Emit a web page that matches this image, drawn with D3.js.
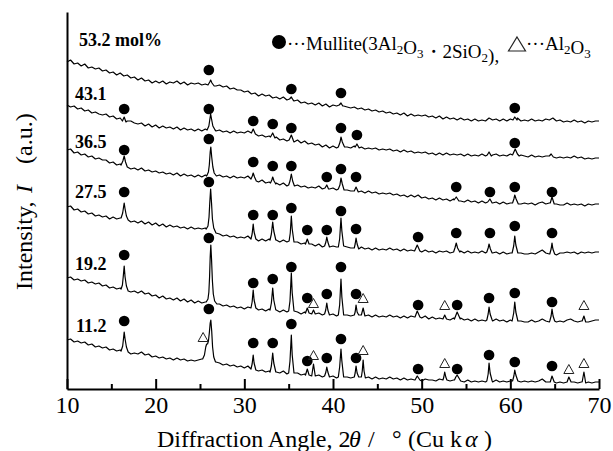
<!DOCTYPE html>
<html>
<head>
<meta charset="utf-8">
<script src="https://cdn.jsdelivr.net/npm/d3@7"></script>
<style>
  body { margin: 0; background: #fff; }
  svg { display: block; }
  text { font-family: "Liberation Serif", "Times New Roman", serif; fill: #000; white-space: pre; }
</style>
</head>
<body>
<svg id="chart" width="613" height="451"></svg>
<script>
// ---- axis definitions ----
const angleDomain = [10, 70];
const majorTicks = [10, 20, 30, 40, 50, 60, 70];
const minorTicks = [15, 25, 35, 45, 55, 65];
const intensityDomain = [0, 377];

// Baseline samples every 0.4 deg from 10 to 70 deg (151 values per pattern)
const gridAngles = d3.range(151).map(i => Math.round((10 + 0.4 * i) * 10) / 10);

const sampleLabels = ["53.2 mol%", "43.1", "36.5", "27.5", "19.2", "11.2"];

// ---- 53.2 mol% ----
const base532 = [
  327,329,325,326,323,325,321,322,320,321, 318,319,316,317,314,316,313,314,311,312,
  309,311,308,309,306,308,306,308,305,307, 306,308,305,307,304,306,305,306,304,305,
  304,305,303,304,302,303,300,301,299,299, 297,298,295,296,293,295,293,294,291,292,
  290,292,289,290,288,289,286,287,285,286, 284,286,283,285,282,284,283,285,283,282,
  281,282,280,281,279,280,278,279,277,278, 276,277,275,276,274,276,273,275,273,274,
  273,274,272,273,271,273,270,272,270,271, 269,271,269,270,268,270,268,269,268,271,
  269,270,268,270,268,270,270,271,268,269, 268,270,268,269,268,270,269,271,268,269,
  267,268,267,269,267,268,266,268,267,268, 268];
const peaks532 = [
  [[25.9,304],[26.1,307],[26.2,309],[26.35,306],[26.6,303]],
  [[35.1,290],[35.3,292],[35.5,289]],
  [[40.7,284],[40.9,286],[41.1,283]],
  [[60.3,269],[60.5,272],[60.75,269]]];
const mullite532 = [[26.0,319],[35.3,300],[40.9,296],[60.5,281]];
const alumina532 = [];

// ---- 43.1 mol% ----
const base431 = [
  284,282,283,280,281,278,279,276,277,275, 274,275,272,273,270,271,269,268,268,266,
  265,266,263,265,262,264,261,263,261,262, 260,262,259,261,259,260,258,260,258,260,
  259,260,258,259,257,258,256,258,256,257, 256,258,255,256,253,254,252,253,251,252,
  249,250,248,249,247,249,246,248,245,246, 244,245,242,244,241,243,241,243,241,242,
  241,243,241,242,240,241,240,241,239,240, 239,240,238,239,237,239,237,238,236,237,
  236,237,235,236,234,236,234,236,234,235, 234,235,233,235,233,234,233,235,233,236,
  234,235,233,234,233,235,234,236,234,233, 232,234,232,233,232,233,235,233,231,232,
  231,232,231,233,231,232,230,231,230,231, 231];
const peaks431 = [
  [[16.25,268],[16.45,272],[16.65,267]],
  [[25.8,259],[26.0,263],[26.1,269],[26.2,275],[26.3,270],[26.45,263],[26.7,259]],
  [[30.8,256],[31.0,260],[31.25,255]],
  [[32.95,252],[33.2,256],[33.45,251]],
  [[35.05,249],[35.3,254],[35.55,248]],
  [[40.6,242],[40.8,247],[40.9,252],[41.05,247],[41.3,242]],
  [[42.5,242],[42.7,245],[42.95,241]],
  [[57.4,234],[57.6,237],[57.85,233]],
  [[60.25,234],[60.45,238],[60.55,240],[60.8,235],[61.0,233]],
  [[64.4,233],[64.6,235],[64.85,232]]];
const mullite431 = [[16.45,280],[26.0,280],[31.0,268],[33.2,265],[35.3,261],[40.9,261],[42.7,254],[60.5,246]];
const alumina431 = [];

// ---- 36.5 mol% ----
const base365 = [
  239,240,236,237,234,235,232,233,230,231, 229,229,226,227,224,225,223,222,220,221,
  219,221,218,219,217,218,216,217,215,216, 214,216,213,215,213,214,212,214,212,214,
  213,214,212,214,212,213,211,213,211,212, 211,213,210,209,207,209,206,207,205,206,
  204,206,203,205,203,204,202,203,201,202, 201,203,200,202,200,201,199,200,199,199,
  198,199,197,198,196,198,196,197,195,196, 195,196,194,195,193,194,192,194,192,194,
  191,192,190,191,189,191,189,190,188,190, 189,188,187,189,187,188,186,188,186,187,
  186,187,185,187,185,186,185,187,185,186, 185,186,184,186,187,185,186,184,185,184,
  184,186,184,185,184,185,183,185,184,185, 185];
const peaks365 = [
  [[16.1,224],[16.3,228],[16.45,233],[16.6,227],[16.8,222]],
  [[25.75,213],[25.95,217],[26.05,224],[26.15,237],[26.22,242],[26.32,232],[26.45,222],[26.6,216],[26.85,213]],
  [[30.75,210],[30.9,213],[31.0,216],[31.15,212],[31.35,208]],
  [[32.95,206],[33.1,209],[33.2,212],[33.35,208],[33.55,205]],
  [[35.0,204],[35.15,208],[35.3,215],[35.45,208],[35.65,203]],
  [[39.1,201],[39.3,204],[39.5,200]],
  [[40.6,200],[40.78,204],[40.9,211],[41.05,205],[41.25,199]],
  [[42.4,198],[42.6,202],[42.85,197]],
  [[53.65,189],[53.9,192],[54.2,188]],
  [[57.45,187],[57.7,190],[57.95,186]],
  [[60.25,186],[60.4,190],[60.5,194],[60.65,190],[60.9,185]],
  [[64.5,186],[64.7,192],[64.95,185]]];
const mullite365 = [[16.45,239],[26.0,250],[31.0,227],[33.2,223],[35.3,223],[39.3,212],[40.9,220],[42.6,212],[53.9,202],[57.7,197],[60.5,202],[64.7,197]];
const alumina365 = [];

// ---- 27.5 mol% ----
const base275 = [
  182,183,179,180,177,178,175,176,173,174, 172,173,170,172,170,171,171,169,167,168,
  166,168,165,167,164,166,163,165,162,164, 162,163,161,162,160,162,160,161,160,161,
  160,158,157,155,153,154,152,153,151,152, 151,153,150,150,148,150,148,150,148,149,
  147,149,147,148,146,147,145,146,144,145, 143,145,142,144,142,143,142,143,141,142,
  141,142,140,142,140,141,139,141,139,140, 139,141,139,140,138,140,138,139,138,139,
  137,139,137,138,136,138,137,138,136,138, 137,138,136,138,136,137,136,138,136,137,
  136,137,135,137,135,136,136,137,136,135, 135,136,135,137,139,136,135,135,134,136,
  136,137,136,137,135,137,136,137,136,137, 137];
const peaks275 = [
  [[16.1,171],[16.28,176],[16.38,182],[16.45,186],[16.55,180],[16.7,173],[16.9,169]],
  [[25.7,160],[25.9,163],[26.02,172],[26.1,186],[26.2,200],[26.3,186],[26.4,170],[26.55,161],[26.8,156]],
  [[30.75,150],[30.88,155],[31.0,165],[31.1,157],[31.3,150]],
  [[32.9,149],[33.05,155],[33.2,167],[33.32,158],[33.55,149]],
  [[35.05,148],[35.18,156],[35.3,173],[35.4,160],[35.6,147]],
  [[36.9,145],[37.1,150],[37.3,145]],
  [[39.05,143],[39.2,147],[39.3,152],[39.42,147],[39.6,142]],
  [[40.6,142],[40.75,150],[40.9,171],[41.0,158],[41.2,143]],
  [[42.4,141],[42.5,145],[42.6,151],[42.72,145],[42.9,140]],
  [[49.25,139],[49.5,144],[49.8,138]],
  [[53.6,137],[53.75,141],[53.9,146],[54.05,141],[54.3,137]],
  [[57.35,137],[57.5,141],[57.6,145],[57.75,140],[57.95,136]],
  [[60.2,136],[60.38,143],[60.5,153],[60.62,144],[60.85,136]],
  [[64.45,135],[64.6,140],[64.7,146],[64.8,140],[65.0,135]]];
const mullite275 = [[16.45,197],[26.0,207],[31.0,174],[33.2,174],[35.3,181],[37.1,159],[39.3,159],[40.9,178],[42.6,160],[49.6,152],[53.9,156],[57.7,156],[60.5,163],[64.7,156]];
const alumina275 = [];

// ---- 19.2 mol% ----
const base192 = [
  111,112,109,110,108,109,106,107,105,106, 103,104,101,102,100,101,100,99,97,98,
  96,98,95,96,93,94,91,93,90,91, 89,91,88,90,87,89,86,88,86,87,
  87,86,85,85,83,84,82,83,81,82, 80,82,81,81,79,80,78,80,78,79,
  77,79,77,78,76,77,75,77,75,76, 75,76,74,75,73,75,73,74,73,74,
  73,75,74,74,73,74,72,74,72,73, 72,74,72,73,71,73,71,73,72,73,
  71,73,70,72,70,71,70,71,69,71, 70,71,69,70,68,70,68,69,68,70,
  68,70,68,69,67,69,68,69,68,67, 67,69,67,68,70,68,67,68,67,68,
  67,69,70,68,67,68,68,67,68,69, 69];
const peaks192 = [
  [[16.1,100],[16.25,104],[16.35,113],[16.45,123],[16.55,112],[16.7,103],[16.9,98]],
  [[25.7,87],[25.9,90],[26.0,97],[26.08,112],[26.15,132],[26.22,144],[26.3,130],[26.4,108],[26.5,95],[26.65,88],[26.9,85]],
  [[30.75,81],[30.88,87],[31.0,99],[31.1,89],[31.3,81]],
  [[32.9,79],[33.05,86],[33.2,101],[33.32,89],[33.55,79]],
  [[35.0,78],[35.15,88],[35.3,116],[35.4,96],[35.6,78]],
  [[36.9,76],[37.1,81],[37.3,76]],
  [[37.6,75],[37.8,79],[38.0,75]],
  [[39.05,75],[39.18,79],[39.3,86],[39.42,79],[39.6,74]],
  [[40.6,74],[40.75,84],[40.9,110],[41.0,92],[41.2,74]],
  [[42.4,74],[42.5,77],[42.6,84],[42.72,77],[42.9,74]],
  [[43.2,74],[43.4,81],[43.6,73]],
  [[49.25,72],[49.5,78],[49.8,72]],
  [[52.4,70],[52.6,74],[52.8,70]],
  [[53.7,70],[54.0,77],[54.35,70]],
  [[57.35,69],[57.5,75],[57.6,82],[57.72,75],[57.95,69]],
  [[60.2,68],[60.38,76],[60.5,87],[60.62,77],[60.85,68]],
  [[64.45,68],[64.6,73],[64.7,80],[64.82,73],[65.0,68]],
  [[68.1,68],[68.3,73],[68.5,67]]];
const mullite192 = [[16.45,134],[26.0,151],[31.0,106],[33.2,110],[35.3,122],[37.1,91],[39.3,95],[40.9,122],[42.6,95],[49.6,84],[54.0,84],[57.6,91],[60.5,96],[64.7,87]];
const alumina192 = [[37.8,86],[43.4,91],[52.6,84],[68.3,84]];

// ---- 11.2 mol% ----
const base112 = [
  49,50,47,48,46,47,44,45,42,43, 41,42,39,40,38,39,38,37,35,36,
  35,37,34,35,32,33,31,32,30,31, 29,31,29,30,28,29,28,29,30,31,
  28,27,27,26,24,25,23,24,22,23, 21,23,20,19,18,19,17,18,16,17,
  16,18,15,17,15,16,14,15,13,14, 13,14,12,13,12,13,11,12,11,12,
  11,13,12,12,11,12,10,12,10,11, 10,12,10,11,9,11,9,10,9,10,
  8,10,9,9,8,10,8,9,8,9, 8,9,7,9,7,8,7,8,7,8,
  7,9,7,8,7,8,8,8,7,8, 7,8,7,8,10,7,7,8,6,7,
  6,7,7,7,6,7,7,7,6,7, 7];
const peaks112 = [
  [[16.1,38],[16.28,43],[16.38,51],[16.45,57],[16.55,50],[16.7,42],[16.9,37]],
  [[25.3,30],[25.5,34],[25.65,42],[25.75,45],[25.85,45],[25.95,48],[26.05,56],[26.15,66],[26.22,69],[26.32,58],[26.42,42],[26.55,32],[26.75,27]],
  [[30.75,20],[30.88,25],[31.0,34],[31.1,26],[31.3,19]],
  [[32.9,17],[33.05,23],[33.2,36],[33.32,26],[33.55,17]],
  [[35.0,16],[35.15,28],[35.3,54],[35.4,34],[35.6,16]],
  [[36.9,14],[37.1,20],[37.3,14]],
  [[37.6,13],[37.8,25],[38.0,13]],
  [[39.05,13],[39.2,17],[39.3,22],[39.42,17],[39.6,12]],
  [[40.6,12],[40.75,22],[40.9,40],[41.0,28],[41.2,12]],
  [[42.4,12],[42.5,16],[42.6,23],[42.72,16],[42.9,12]],
  [[43.2,12],[43.3,18],[43.4,29],[43.5,18],[43.65,11]],
  [[49.25,9],[49.5,13],[49.8,9]],
  [[52.4,9],[52.5,12],[52.6,17],[52.72,12],[52.85,9]],
  [[53.7,9],[53.85,12],[54.0,14],[54.2,11],[54.4,8]],
  [[57.35,8],[57.5,15],[57.6,26],[57.72,16],[57.95,8]],
  [[60.25,8],[60.4,13],[60.5,19],[60.62,14],[60.85,8]],
  [[64.5,7],[64.7,13],[64.95,7]],
  [[66.4,7],[66.6,12],[66.85,7]],
  [[68.1,7],[68.3,17],[68.5,6]]];
const mullite112 = [[16.45,68],[26.0,80],[31.0,46],[33.2,46],[35.3,65],[37.1,28],[39.3,31],[40.9,50],[42.6,31],[49.6,20],[54.0,20],[57.6,34],[60.5,27],[64.7,23]];
const alumina112 = [[25.35,52],[37.8,34],[43.4,39],[52.6,26],[66.6,20],[68.3,26]];

// ---- assemble patterns ----
const patterns = [
  { label: sampleLabels[0], base: base532, peaks: peaks532, mullite: mullite532, alumina: alumina532, lx: 79, ly: 46 },
  { label: sampleLabels[1], base: base431, peaks: peaks431, mullite: mullite431, alumina: alumina431, lx: 75, ly: 100 },
  { label: sampleLabels[2], base: base365, peaks: peaks365, mullite: mullite365, alumina: alumina365, lx: 75, ly: 148 },
  { label: sampleLabels[3], base: base275, peaks: peaks275, mullite: mullite275, alumina: alumina275, lx: 75, ly: 198 },
  { label: sampleLabels[4], base: base192, peaks: peaks192, mullite: mullite192, alumina: alumina192, lx: 75, ly: 270 },
  { label: sampleLabels[5], base: base112, peaks: peaks112, mullite: mullite112, alumina: alumina112, lx: 76, ly: 332 }
];

// Replace baseline samples inside each peak's angular span with the peak's own points
function buildSeries(base, peaks) {
  const spans = peaks.map(p => [p[0][0], p[p.length - 1][0]]);
  const pts = gridAngles
    .map((a, i) => [a, base[i]])
    .filter(([a]) => !spans.some(([lo, hi]) => a >= lo && a <= hi));
  peaks.forEach(p => pts.push(...p));
  return pts.sort((a, b) => a[0] - b[0]);
}

const svg = d3.select("#chart");
const x = d3.scaleLinear().domain(angleDomain).range([67, 599]);
const y = d3.scaleLinear().domain(intensityDomain).range([389, 12]);
const FONT = '"Liberation Serif", "Times New Roman", serif';

// ---- axes ----
const gx = svg.append("g")
  .attr("transform", "translate(0,389)")
  .call(d3.axisBottom(x).tickValues(majorTicks).tickSize(-10).tickSizeOuter(0)
    .tickPadding(7).tickFormat(d3.format("d")));
gx.attr("font-family", FONT).attr("font-size", 24);
gx.select(".domain").attr("stroke", "#000").attr("stroke-width", 2);
gx.selectAll(".tick line").attr("stroke", "#000").attr("stroke-width", 2);
gx.selectAll(".tick text").attr("fill", "#000");

const gxm = svg.append("g")
  .attr("transform", "translate(0,389)")
  .call(d3.axisBottom(x).tickValues(minorTicks).tickSize(-5).tickSizeOuter(0).tickFormat(""));
gxm.select(".domain").remove();
gxm.selectAll(".tick line").attr("stroke", "#000").attr("stroke-width", 2);

const gy = svg.append("g")
  .attr("transform", "translate(67,0)")
  .call(d3.axisLeft(y).tickValues([]).tickSizeOuter(0));
gy.select(".domain").attr("stroke", "#000").attr("stroke-width", 2);

// ---- patterns ----
const line = d3.line().x(d => x(d[0])).y(d => y(d[1]));
const circleSym = d3.symbol().type(d3.symbolCircle).size(90);
const triPath = (w, h) => `M0,${-h / 2}L${w / 2},${h / 2}L${-w / 2},${h / 2}Z`;

const gp = svg.append("g");
patterns.forEach(p => {
  gp.append("path")
    .datum(buildSeries(p.base, p.peaks))
    .attr("d", line)
    .attr("fill", "none")
    .attr("stroke", "#000")
    .attr("stroke-width", 1.2)
    .attr("stroke-linejoin", "round");

  gp.selectAll(null).data(p.mullite).enter().append("path")
    .attr("d", circleSym)
    .attr("transform", d => `translate(${x(d[0])},${y(d[1])})`)
    .attr("fill", "#000");

  gp.selectAll(null).data(p.alumina).enter().append("path")
    .attr("d", triPath(10, 9))
    .attr("transform", d => `translate(${x(d[0])},${y(d[1])})`)
    .attr("fill", "none")
    .attr("stroke", "#222")
    .attr("stroke-width", 1);

  svg.append("text")
    .attr("x", p.lx).attr("y", p.ly)
    .attr("font-size", 18).attr("font-weight", "bold")
    .text(p.label);
});

// ---- legend ----
function richText(sel, parts) {
  parts.forEach(([t, kind]) => {
    if (kind === "sub") {
      sel.append("tspan").attr("font-size", 13).attr("dy", 4).text(t);
      sel.append("tspan").attr("dy", -4).text("");
    } else {
      sel.append("tspan").text(t);
    }
  });
}
svg.append("path").attr("d", d3.symbol().type(d3.symbolCircle).size(154))
  .attr("transform", "translate(279,42)").attr("fill", "#000");
const lg1 = svg.append("text").attr("x", 287).attr("y", 50).attr("font-size", 19);
richText(lg1, [["···Mullite(3Al"], ["2", "sub"], ["O"], ["3", "sub"], ["・2SiO"], ["2", "sub"], ["),"]]);
svg.append("path").attr("d", triPath(17, 14))
  .attr("transform", "translate(517,44)")
  .attr("fill", "none").attr("stroke", "#222").attr("stroke-width", 1.2);
const lg2 = svg.append("text").attr("x", 526).attr("y", 50).attr("font-size", 19);
richText(lg2, [["···Al"], ["2", "sub"], ["O"], ["3", "sub"]]);

// ---- axis titles ----
const xt = svg.append("text").attr("y", 447).attr("font-size", 24);
xt.append("tspan").attr("x", 157).text("Diffraction Angle, 2");
xt.append("tspan").attr("x", 349).attr("font-style", "italic").text("θ");
xt.append("tspan").attr("x", 368).text("/");
xt.append("tspan").attr("x", 392).text("°");
xt.append("tspan").attr("x", 408).text("(Cu k");
xt.append("tspan").attr("x", 465).attr("font-style", "italic").text("α");
xt.append("tspan").attr("x", 484).text(")");

const yt = svg.append("text").attr("transform", "translate(32,290) rotate(-90)").attr("font-size", 24);
yt.append("tspan").attr("x", 0).text("Intensity,");
yt.append("tspan").attr("x", 97).attr("font-style", "italic").text("I");
yt.append("tspan").attr("x", 126).text("(a.u.)");
</script>
</body>
</html>
